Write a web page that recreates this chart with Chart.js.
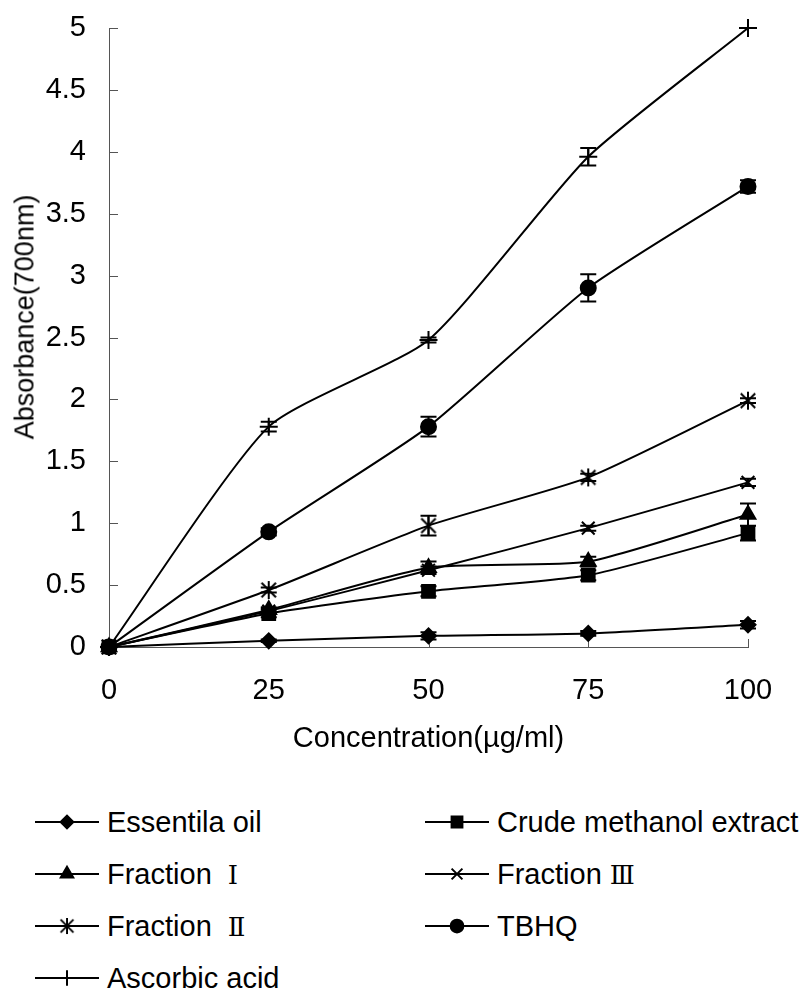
<!DOCTYPE html>
<html>
<head>
<meta charset="utf-8">
<title>Absorbance vs concentration</title>
<script src="https://cdn.jsdelivr.net/npm/chart.js@4"></script>
<style>
  html, body { margin: 0; padding: 0; background: #fff; }
  #page { position: relative; width: 807px; height: 991px; overflow: hidden; }
  #plot { position: absolute; left: 0; top: 0; width: 807px; height: 770px; }
  #ytitle { position: absolute; left: 25px; top: 317px; transform: translate(-50%, -50%) rotate(-90deg);
            font-family: "Liberation Sans", Arial, sans-serif; font-size: 27px; color: #000; white-space: nowrap; }
  .item { position: absolute; height: 32px; display: flex; align-items: center;
          font-family: "Liberation Sans", Arial, sans-serif; font-size: 29px; color: #000; white-space: nowrap; }
  .item canvas { margin-right: 8px; }
  .roman { font-family: "DejaVu Serif", "Liberation Serif", serif; font-size: 26px; margin-left: 16px; }
</style>
</head>
<body>
<div id="page">
  <div id="plot"><canvas id="chart"></canvas></div>
  <div id="ytitle">Absorbance(700nm)</div>
  <div id="legend"></div>
</div>
<script>
// x values (µg/ml)
const concentrations = [0, 25, 50, 75, 100];
const xTickLabels = ['0', '25', '50', '75', '100'];
const yTickLabels = ['0', '0.5', '1', '1.5', '2', '2.5', '3', '3.5', '4', '4.5', '5'];

// series, in legend order
const seriesNames = ['Essentila oil', 'Crude methanol extract', 'Fraction Ⅰ', 'Fraction Ⅲ', 'Fraction Ⅱ', 'TBHQ', 'Ascorbic acid'];
const essentialOil = [0, 0.05, 0.09, 0.11, 0.18];
const crudeMethanol = [0, 0.27, 0.45, 0.58, 0.92];
const fraction1 = [0, 0.30, 0.64, 0.69, 1.07];
const fraction3 = [0, 0.29, 0.62, 0.96, 1.33];
const fraction2 = [0, 0.46, 0.98, 1.37, 1.99];
const tbhq = [0, 0.93, 1.78, 2.90, 3.72];
const ascorbicAcid = [0, 1.78, 2.48, 3.96, 5.0];

// error bars (+/-)
const essentialOilErr = [0, 0.01, 0.03, 0.02, 0.03];
const crudeMethanolErr = [0, 0.03, 0.04, 0.04, 0.06];
const fraction1Err = [0, 0.02, 0.05, 0.04, 0.09];
const fraction3Err = [0, 0.02, 0.03, 0.02, 0.03];
const fraction2Err = [0, 0.02, 0.08, 0.03, 0.02];
const tbhqErr = [0, 0.03, 0.08, 0.11, 0.05];
const ascorbicAcidErr = [0, 0.04, 0.02, 0.07, 0];

const seriesValues = [essentialOil, crudeMethanol, fraction1, fraction3, fraction2, tbhq, ascorbicAcid];
const seriesErrors = [essentialOilErr, crudeMethanolErr, fraction1Err, fraction3Err, fraction2Err, tbhqErr, ascorbicAcidErr];

const FONT = '"Liberation Sans", Arial, sans-serif';
const AXIS_COLOR = '#555';

// Excel style asterisk: an x with a vertical bar
function makeAsterisk(r) {
  const c = document.createElement('canvas');
  const s = Math.ceil(r * 2 + 4);
  c.width = s; c.height = s;
  const g = c.getContext('2d');
  const m = s / 2, d = r * 0.8;
  g.strokeStyle = '#000';
  g.lineWidth = 2;
  g.beginPath();
  g.moveTo(m - d, m - d); g.lineTo(m + d, m + d);
  g.moveTo(m + d, m - d); g.lineTo(m - d, m + d);
  g.moveTo(m, m - r); g.lineTo(m, m + r);
  g.stroke();
  return c;
}

const markerStyles = ['rectRot', 'rect', 'triangle', 'crossRot', makeAsterisk(9), 'circle', 'cross'];
const markerSizes = [7.5, 9, 8.5, 9, 9, 7.5, 9];

const datasets = seriesNames.map((name, i) => ({
  label: name,
  data: concentrations.map((c, j) => ({ x: c, y: seriesValues[i][j] })),
  borderColor: '#000',
  backgroundColor: '#000',
  borderWidth: 2,
  tension: 0.2,
  pointStyle: markerStyles[i],
  pointRadius: markerSizes[i],
  pointBorderWidth: 2,
  pointBorderColor: '#000',
  pointBackgroundColor: '#000',
  order: i === 1 ? -1 : 0, // squares end up on top, as in the original
  clip: false,
}));

const inwardTicks = {
  id: 'inwardTicks',
  beforeDatasetsDraw(chart) {
    const { ctx, chartArea } = chart;
    const { x, y } = chart.scales;
    ctx.save();
    ctx.strokeStyle = AXIS_COLOR;
    ctx.lineWidth = 1;
    ctx.beginPath();
    y.ticks.forEach((t) => {
      const py = Math.round(y.getPixelForValue(t.value)) + 0.5;
      ctx.moveTo(chartArea.left, py);
      ctx.lineTo(chartArea.left + 9, py);
    });
    x.ticks.forEach((t) => {
      const px = Math.round(x.getPixelForValue(t.value)) + 0.5;
      ctx.moveTo(px, chartArea.bottom);
      ctx.lineTo(px, chartArea.bottom - 8);
    });
    ctx.stroke();
    ctx.restore();
  },
};

const errorBars = {
  id: 'errorBars',
  afterDatasetsDraw(chart) {
    const { ctx } = chart;
    const { x, y } = chart.scales;
    ctx.save();
    ctx.strokeStyle = '#000';
    ctx.lineWidth = 2;
    ctx.beginPath();
    seriesValues.forEach((vals, i) => {
      vals.forEach((v, j) => {
        const e = seriesErrors[i][j];
        if (!e) return;
        const px = x.getPixelForValue(concentrations[j]);
        const top = y.getPixelForValue(v + e);
        const bot = y.getPixelForValue(v - e);
        ctx.moveTo(px, top); ctx.lineTo(px, bot);
        ctx.moveTo(px - 8, top); ctx.lineTo(px + 8, top);
        ctx.moveTo(px - 8, bot); ctx.lineTo(px + 8, bot);
      });
    });
    ctx.stroke();
    ctx.restore();
  },
};

const chart = new Chart(document.getElementById('chart'), {
  type: 'line',
  data: { datasets },
  plugins: [inwardTicks, errorBars],
  options: {
    responsive: true,
    maintainAspectRatio: false,
    animation: false,
    layout: { padding: { left: 0, top: 28, right: 59, bottom: 0 } },
    plugins: { legend: { display: false }, tooltip: { enabled: false } },
    scales: {
      x: {
        type: 'linear',
        min: 0,
        max: 100,
        afterFit: (s) => { s.height = 123; },
        afterBuildTicks: (s) => { s.ticks = concentrations.map((v) => ({ value: v })); },
        ticks: {
          padding: 27,
          color: '#000',
          font: { family: FONT, size: 29 },
          maxRotation: 0,
          callback: (v) => xTickLabels[concentrations.indexOf(v)],
        },
        grid: { display: true, drawOnChartArea: false, drawTicks: false },
        border: { display: true, color: AXIS_COLOR, width: 1 },
        title: {
          display: true,
          text: 'Concentration(µg/ml)',
          color: '#000',
          font: { family: FONT, size: 29 },
          padding: { top: 0, bottom: 14 },
        },
      },
      y: {
        min: 0,
        max: 5,
        afterFit: (s) => { s.width = 109; },
        afterBuildTicks: (s) => { s.ticks = yTickLabels.map((l) => ({ value: parseFloat(l) })); },
        ticks: {
          padding: 3,
          color: '#000',
          font: { family: FONT, size: 29 },
          callback: (v) => yTickLabels.find((l) => parseFloat(l) === v),
        },
        // invisible outer ticks only set the gap between labels and axis
        grid: { display: true, drawOnChartArea: false, drawTicks: true, tickLength: 20, tickColor: 'rgba(0,0,0,0)' },
        border: { display: true, color: AXIS_COLOR, width: 1 },
        title: { display: false },
      },
    },
  },
});

// legend: two columns, line + marker icon then label
const legend = document.getElementById('legend');
seriesNames.forEach((name, i) => {
  const col = i % 2;
  const row = Math.floor(i / 2);
  const item = document.createElement('div');
  item.className = 'item';
  item.style.left = (col === 0 ? 35 : 425) + 'px';
  item.style.top = (822 + row * 52 - 16) + 'px';

  const icon = document.createElement('canvas');
  icon.width = 64; icon.height = 24;
  const g = icon.getContext('2d');
  g.strokeStyle = '#000';
  g.fillStyle = '#000';
  g.lineWidth = 2;
  g.beginPath(); g.moveTo(0, 12); g.lineTo(64, 12); g.stroke();
  const style = markerStyles[i];
  const r = markerSizes[i] * 0.85;
  if (typeof style === 'string') {
    Chart.helpers.drawPoint(g, { pointStyle: style, radius: r, borderWidth: 2, rotation: 0 }, 32, 12);
  } else {
    g.drawImage(style, 32 - style.width * 0.45, 12 - style.height * 0.45, style.width * 0.9, style.height * 0.9);
  }
  item.appendChild(icon);

  const m = name.match(/^(.*?)\s*([ⅠⅡⅢ])$/);
  const label = document.createElement('span');
  if (m) {
    label.textContent = m[1];
    const roman = document.createElement('span');
    roman.className = 'roman';
    roman.textContent = m[2];
    if (m[2] === 'Ⅲ') roman.style.marginLeft = '8px';
    label.appendChild(roman);
  } else {
    label.textContent = name;
  }
  item.appendChild(label);
  legend.appendChild(item);
});
</script>
</body>
</html>
